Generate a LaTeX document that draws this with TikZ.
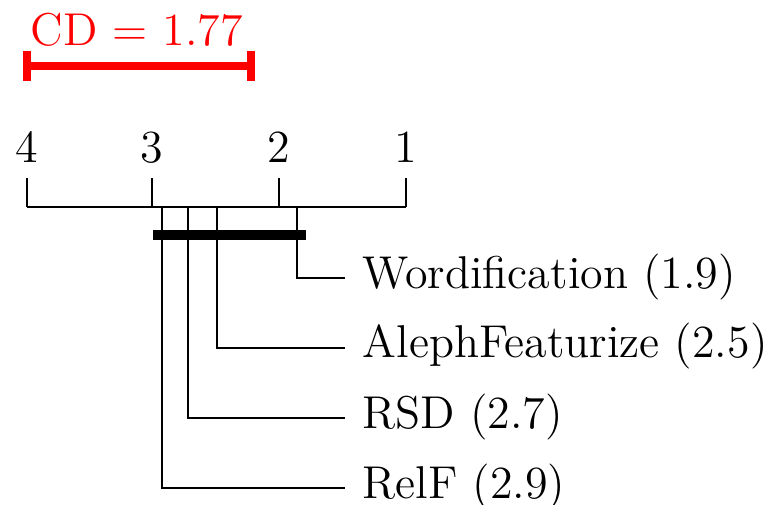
\documentclass[tikz,border=0pt]{standalone}
\begin{document}
\begin{tikzpicture}[x=0.25pt,y=-0.25pt,
  lbl/.style={inner sep=0pt,font=\fontsize{11.5}{14}\selectfont},
  axisline/.style={line width=0.55pt,black},
  cdline/.style={line width=2.2pt,red}]
\useasboundingbox (0,0) rectangle (776,505);
% CD bar
\coordinate (cdl) at (27.5,66);
\coordinate (cdr) at (251,66);
\draw[cdline] (cdl) -- (cdr);
\draw[red,line width=2pt] (27.5,51) -- (27.5,81);
\draw[red,line width=2pt] (251,51) -- (251,81);
\node[lbl,text=red,anchor=base] (cd) at (137,45) {CD = 1.77};
% axis
\coordinate (a4) at (26.7,207.3);
\coordinate (a1) at (406,207.3);
\draw[axisline] (a4) -- (a1);
\foreach \r/\x in {4/26.7,3/151.7,2/279,1/406}{
  \draw[axisline] (\x,178) -- (\x,207.3);
  \node[lbl,anchor=base] (t\r) at (\x,162) {\r};
}
% clique bar
\draw[line width=2.4pt] (153.3,235) -- (305.7,235);
% methods
\foreach \n/\x/\y/\t in {w/297/278.3/{Wordification (1.9)},
                         a/217/347.7/{AlephFeaturize (2.5)},
                         r/188.3/418.3/{RSD (2.7)},
                         f/162.3/488.3/{RelF (2.9)}}{
  \coordinate (top\n) at (\x,207.3);
  \coordinate (cor\n) at (\x,\y);
  \node[lbl,anchor=base west] (m\n) at (362,\y+10) {\t};
  \draw[axisline] (top\n) -- (cor\n) -- (345,\y);
}
\end{tikzpicture}
\end{document}
